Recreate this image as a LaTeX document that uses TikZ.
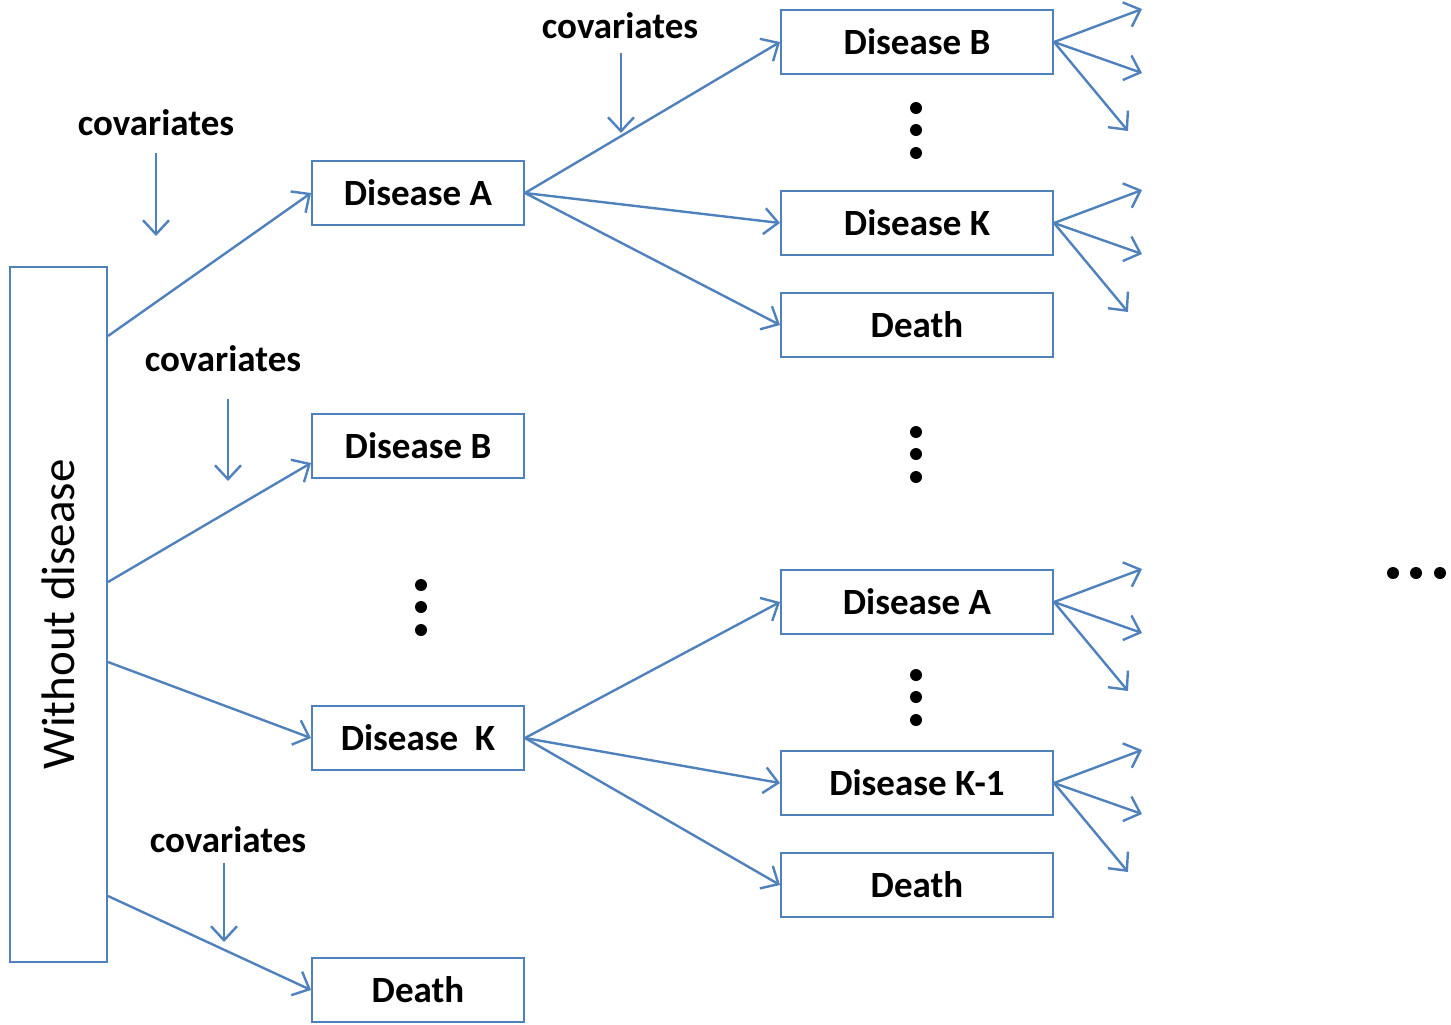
\documentclass[tikz,border=0pt]{standalone}
\usepackage{fontspec}
\setmainfont{Carlito}
\usepackage{xcolor}
\usepackage{tikz}
\usetikzlibrary{arrows.meta}
\usetikzlibrary{positioning}
\definecolor{boxblue}{HTML}{4F81BD}
\tikzstyle{state} = [rectangle, draw=boxblue, line width=1pt, inner sep=0pt,
    minimum width=106pt, minimum height=32pt,
    font=\fontsize{18.5}{20}\selectfont\bfseries]
\tikzstyle{wide state} = [state, minimum width=136pt]
\tikzstyle{covtext} = [inner sep=0pt, anchor=base,
    font=\fontsize{18.5}{20}\selectfont\bfseries]
\tikzstyle{line} = [draw=boxblue, line width=1.2pt,
    -{Straight Barb[length=7pt,width=13pt,line width=1.2pt]}]

\begin{document}
\begin{tikzpicture}[x=0.5pt, y=-0.5pt]
  \useasboundingbox (0,0) rectangle (1451,1024);
  % Place nodes
  \node [rectangle, draw=boxblue, line width=1pt, minimum width=48.5pt,
         minimum height=347.5pt] (wd) at (58.5,614.5) {};
  \node [rotate=90, font=\fontsize{23.5}{25}\selectfont] (wdtext) at (wd) {Without disease};
  \node [state] (dA) at (418,193) {Disease A};
  \node [state] (dB) at (418,446) {Disease B};
  \node [state] (dK) at (418,738) {Disease\ \ K};
  \node [state] (dD) at (418,990) {Death};
  \node [wide state] (aB) at (917,42) {Disease B};
  \node [wide state] (aK) at (917,223) {Disease K};
  \node [wide state] (aD) at (917,325) {Death};
  \node [wide state] (kA) at (917,602) {Disease A};
  \node [wide state] (kK) at (917,783) {Disease K-1};
  \node [wide state] (kD) at (917,885) {Death};
  \node [covtext] (cov1) at (156,135) {covariates};
  \node [covtext] (cov2) at (223,371) {covariates};
  \node [covtext] (cov3) at (620,38) {covariates};
  \node [covtext] (cov4) at (228,852) {covariates};
  \coordinate (c1) at (156,236);
  \coordinate (c2) at (228,481);
  \coordinate (c3) at (621,133);
  \coordinate (c4) at (224,942);
  % Draw edges
  \draw[line, shorten <=8.5pt] (cov1.south -| c1) -- (c1);
  \draw[line, shorten <=13.5pt] (cov2.south -| c2) -- (c2);
  \draw[line, shorten <=7pt] (cov3.south -| c3) -- (c3);
  \draw[line, shorten <=5pt] (cov4.south -| c4) -- (c4);
  \draw[line] ([yshift=-35pt]wd.north east) -- (dA.west);
  \draw[line] ([yshift=-158pt]wd.north east) -- ([yshift=-8.5pt]dB.west);
  \draw[line] ([yshift=-198pt]wd.north east) -- (dK.west);
  \draw[line] ([yshift=-315pt]wd.north east) -- (dD.west);
  \foreach \t in {aB,aK,aD}
    \draw[line] (dA.east) -- (\t.west);
  \foreach \t in {kA,kK,kD}
    \draw[line] (dK.east) -- (\t.west);
  \foreach \s in {aB,aK,kA,kK} {
    \coordinate (\s-up) at ([shift={(88,-33)}]\s.east);
    \coordinate (\s-mid) at ([shift={(88,31)}]\s.east);
    \coordinate (\s-low) at ([shift={(74,89)}]\s.east);
    \draw[line] (\s.east) -- (\s-up);
    \draw[line] (\s.east) -- (\s-mid);
    \draw[line] (\s.east) -- (\s-low);
  }
  % Dots
  \foreach \x/\y in {421/585, 916/108, 916/432, 916/675}
    \foreach \d in {0,22,45}
      \fill (\x,\y+\d) circle (3pt);
  \foreach \d in {0,23,47}
    \fill (1393+\d,573) circle (3pt);
\end{tikzpicture}
\end{document}
